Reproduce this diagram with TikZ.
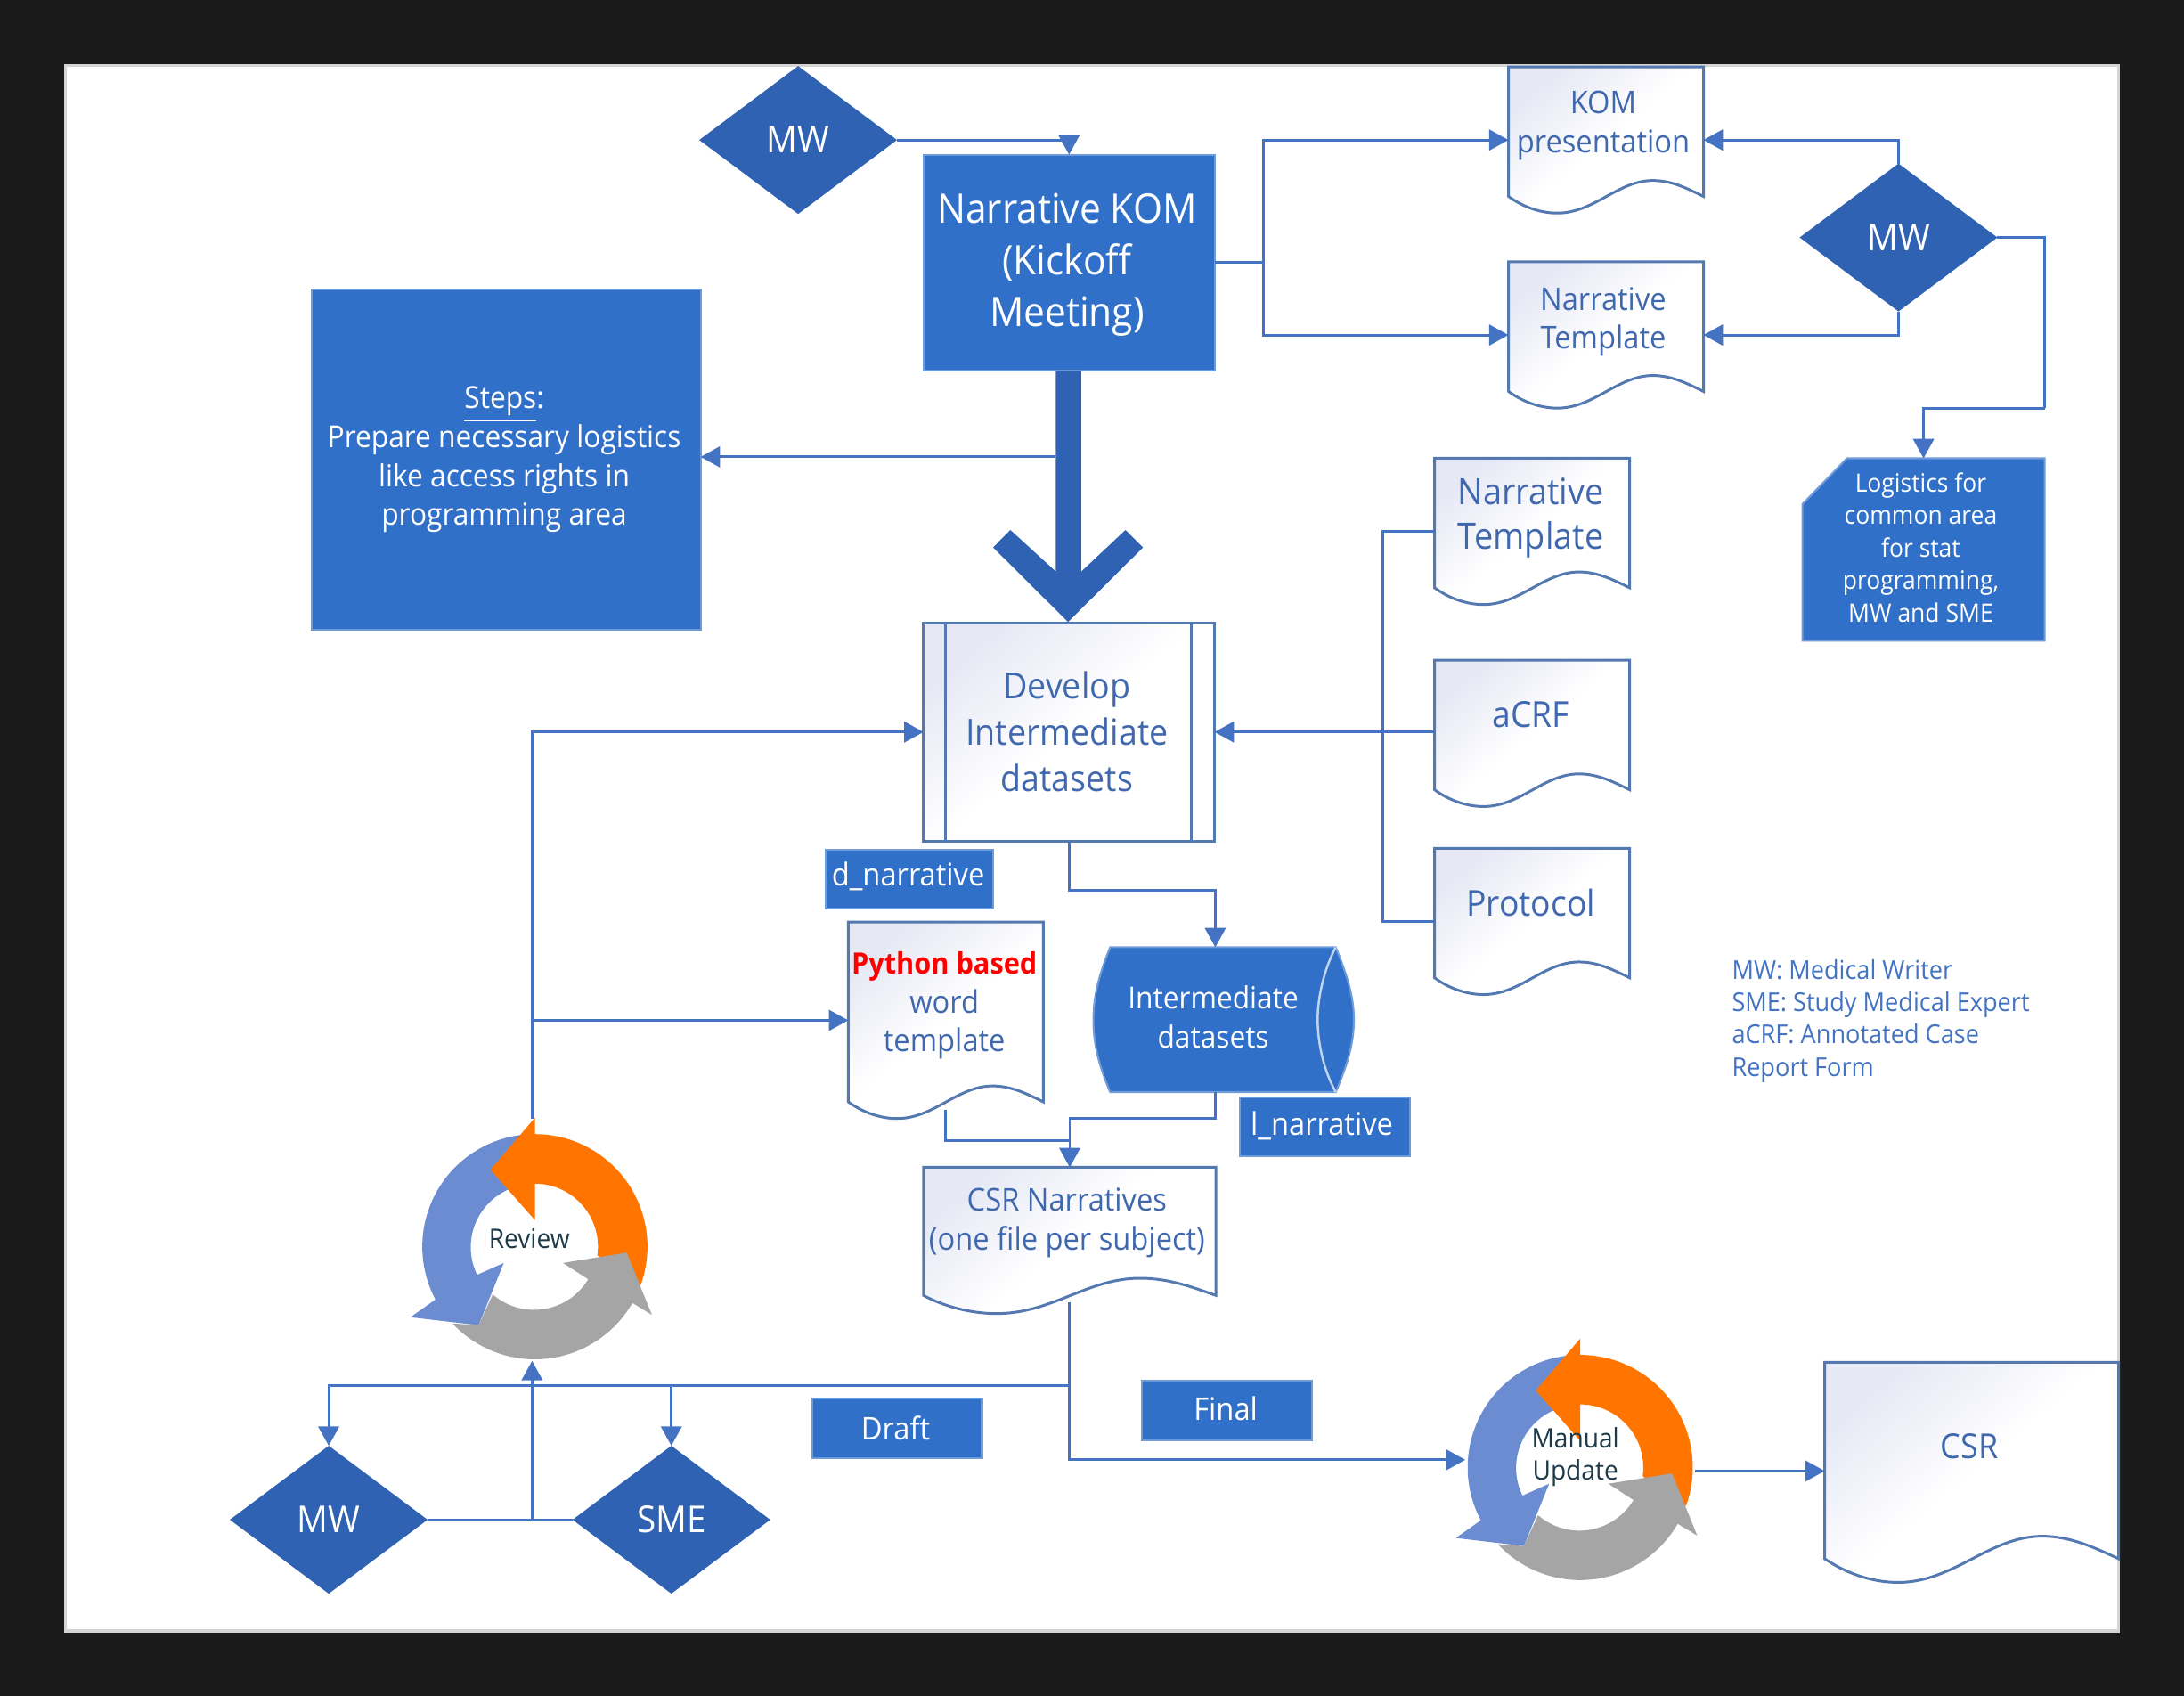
\documentclass[tikz,border=0pt]{standalone}
\usepackage{fontspec}
\setmainfont{Open Sans}[FakeStretch=0.93]
\usetikzlibrary{arrows.meta,shapes.geometric,fit,calc}
\definecolor{pagedark}{HTML}{1A1A1A}
\definecolor{pageedge}{HTML}{D4D4D4}
\definecolor{boxblue}{HTML}{3170C8}
\definecolor{diablue}{HTML}{2F62B2}
\definecolor{linec}{HTML}{4373C2}
\definecolor{edgec}{HTML}{5478B0}
\definecolor{doctext}{HTML}{4068AE}
\definecolor{docshade}{HTML}{E6E8F4}
\definecolor{cycblue}{HTML}{6C8CD2}
\definecolor{cycorange}{HTML}{FF7500}
\definecolor{cycgray}{HTML}{A5A5A5}
\definecolor{cyctext}{HTML}{1C3A48}
\newcommand\fsz[2]{\fontsize{#1}{#2}\selectfont}
\tikzset{
  wire/.style={draw=linec,line width=0.85pt},
  conn/.style={wire,-{Triangle[length=6.2pt,width=6.6pt]}},
  anchorbox/.style={inner sep=0pt,outer sep=0pt},
  bluebox/.style={anchorbox,fill=boxblue,draw=boxblue!70!white,line width=0.6pt,text=white},
  mwdia/.style={diamond,anchorbox,fill=diablue,text=white,minimum width=2.22cm,minimum height=1.66cm,font=\fsz{11.8}{13}},
  doctxt/.style={text=doctext,align=center,inner sep=0pt},
  labtxt/.style={text=white,align=center,inner sep=0pt},
  docpath/.style={draw=edgec,line width=0.85pt,top color=docshade,bottom color=white,middle color=white,shading angle=40},
  cyctxt/.style={text=cyctext,align=center,inner sep=0pt,font=\fsz{8.6}{10.2}}
}
% name, x0, y0, x1, yb, amplitude
\newcommand\docu[6]{%
  \pgfmathsetmacro\dw{#4-#2}%
  \path[docpath] (#2,#3) -- (#4,#3) -- (#4,#5)
    .. controls ({#4-0.08*\dw},{#5-0.45*#6}) and ({#4-0.16*\dw},{#5-0.95*#6}) .. ({#2+0.74*\dw},{#5-0.95*#6})
    .. controls ({#2+0.56*\dw},{#5-0.95*#6}) and ({#2+0.44*\dw},{#5+#6}) .. ({#2+0.25*\dw},{#5+#6})
    .. controls ({#2+0.16*\dw},{#5+#6}) and ({#2+0.07*\dw},{#5+0.6*#6}) .. (#2,#5) -- cycle;
  \node[anchorbox,fit={(#2,#3)(#4,{#5+#6})}] (#1) {};%
}
% centre x, centre y
\newcommand\cyc[2]{%
  \begin{scope}[shift={(#1,#2)},x=0.003334cm,y=0.003334cm]
    \fill[cycblue] (96:380) arc[start angle=96,end angle=208,radius=380]
      -- (-420,-238) -- (-190,-265) -- (-105,-55) -- (-195,-95)
      arc[start angle=206,end angle=108,radius=213] -- cycle;
    \fill[cycorange] (-20:380) arc[start angle=-20,end angle=90,radius=380]
      -- (0,435) -- (-150,260) -- (0,90) -- (0,213)
      arc[start angle=90,end angle=-8,radius=213] -- cycle;
    \fill[cycgray] (223:380) arc[start angle=223,end angle=330,radius=380]
      -- (395,-230) -- (310,-20) -- (95,-55) -- (180,-110)
      arc[start angle=329,end angle=229,radius=213]
      -- (-190,-265) -- cycle;
  \end{scope}
}
\begin{document}
\begin{tikzpicture}[x=0.015638cm,y=-0.015638cm]
\useasboundingbox (0,0) rectangle (1568,1217.55);
\fill[pagedark] (0,0) rectangle (1568,1217.55);
\path[fill=white,draw=pageedge,line width=1pt] (47,47) rectangle (1521,1171);

% boxes
\node[bluebox,fit={(663,111)(872,266)}] (kom) {};
\node[labtxt,font=\fsz{13}{16.6}] (komt) at (766,190) {Narrative KOM\\(Kickoff\\Meeting)};
\node[bluebox,fit={(224,208)(503,452)}] (steps) {};
\node[labtxt,font=\fsz{9.7}{12.4}] (stepst) at (362,330) {\underline{Steps}:\\Prepare necessary logistics\\like access rights in\\programming area};

% thick arrow
\fill[diablue] (758,266) -- (776.3,266) -- (776.3,410.3) -- (808,380.5) -- (820.6,393) -- (766.8,446.5)
  -- (713,393) -- (725.4,380.5) -- (758,410.3) -- cycle;
\coordinate (shaft) at (758,328);

% develop
\path[docpath] (663,447) rectangle (872,604);
\node[anchorbox,fit={(663,447)(872,604)}] (dev) {};
\draw[draw=edgec,line width=0.85pt] (679,447) -- (679,604) (855,447) -- (855,604);
\node[doctxt,font=\fsz{11.5}{14.8}] (devt) at (766,525) {Develop\\Intermediate\\datasets};

% documents
\docu{kompres}{1083}{48}{1223}{141}{12}
\node[doctxt,font=\fsz{10}{12.4}] (kompt) at (1151,90) {KOM\\presentation};
\docu{tmplA}{1083}{188}{1223}{281}{12}
\node[doctxt,font=\fsz{10}{12.4}] (tmplAt) at (1151,231) {Narrative\\Template};
\docu{tmplB}{1030}{329}{1170}{422}{12}
\node[doctxt,font=\fsz{11.6}{14.2}] (tmplBt) at (1099,372) {Narrative\\Template};
\docu{acrf}{1030}{474}{1170}{567}{12}
\node[doctxt,font=\fsz{11.4}{14}] (acrft) at (1099,513) {aCRF};
\docu{prot}{1030}{609}{1170}{702}{12}
\node[doctxt,font=\fsz{11.4}{14}] (prott) at (1099,648) {Protocol};
\docu{py}{609}{662}{749}{791}{12}
\node[doctxt,font=\fsz{10}{12.4}] (pyt) at (678,722) {\textcolor{red}{\textbf{\fsz{9.4}{12.4}Python based}}\\word\\template};
\docu{narr}{663}{838}{873}{930}{13}
\node[doctxt,font=\fsz{10}{12.4}] (narrt) at (766,878) {CSR Narratives\\(one file per subject)};
\docu{csr}{1310}{978}{1521}{1119}{17}
\node[doctxt,font=\fsz{11}{13}] (csrt) at (1414,1038) {CSR};

% logistics
\path[fill=boxblue,draw=boxblue!70!white,line width=0.6pt] (1326,329) -- (1468,329) -- (1468,460) -- (1294,460) -- (1294,362) -- cycle;
\node[anchorbox,fit={(1294,329)(1468,460)}] (logi) {};
\node[labtxt,font=\fsz{8.1}{10.4}] (logit) at (1379,393) {Logistics for\\common area\\for stat\\programming,\\MW and SME};

% cylinder
\path[fill=boxblue,draw=boxblue!70!white,line width=0.6pt] (797,680) -- (959,680)
  .. controls (967,700) and (972,715) .. (972,732) .. controls (972,750) and (967,765) .. (959,784)
  -- (797,784) .. controls (789,765) and (785,750) .. (785,732) .. controls (785,715) and (789,700) .. (797,680) -- cycle;
\draw[draw=white!70!boxblue,line width=0.7pt] (959,680) .. controls (951,695) and (946,715) .. (946,732) .. controls (946,750) and (951,770) .. (959,784);
\node[anchorbox,fit={(785,680)(960,784)}] (cyl) {};
\node[labtxt,font=\fsz{9.7}{12.4}] (cylt) at (871,730) {Intermediate\\datasets};

% labels
\node[bluebox,fit={(593,610)(713,652)}] (dn) {};
\node[labtxt,font=\fsz{10}{12}] (dnt) at (652,629) {d\_narrative};
\node[bluebox,fit={(890,788)(1012,830)}] (ln) {};
\node[labtxt,font=\fsz{10}{12}] (lnt) at (949,808) {l\_narrative};
\node[bluebox,fit={(583,1004)(705,1047)}] (draft) {};
\node[labtxt,font=\fsz{10}{12}] (draftt) at (643,1025) {Draft};
\node[bluebox,fit={(820,991)(942,1034)}] (final) {};
\node[labtxt,font=\fsz{10}{12}] (finalt) at (880,1011) {Final};

% diamonds
\node[mwdia] (mwa) at (573,100.5) {MW};
\node[mwdia] (mwb) at (1363,170.5) {MW};
\node[mwdia] (mwc) at (236,1091) {MW};
\node[mwdia] (sme) at (482,1091) {SME};

% cycles
\cyc{384}{895}
\node[cyctxt] (revt) at (380,889) {Review};
\cyc{1134.5}{1053.5}
\node[cyctxt] (mant) at (1131,1046) {Manual\\Update};

% legend
\node[text=linec,align=left,anchor=west,inner sep=0pt,font=\fsz{8.3}{10.3}] (legend) at (1243,733) {MW: Medical Writer\\SME: Study Medical Expert\\aCRF: Annotated Case\\Report Form};

% connector anchors
\coordinate (revtop) at (382,803);
\coordinate (revbot) at (382,977);
\coordinate (pybot) at (679,797);
\coordinate (narrbot) at (767.5,935);
\coordinate (manin) at (1052,1048);
\coordinate (manout) at (1217,1056);
\coordinate (jright) at (1468,293);
\coordinate (jbranch) at (382,732.5);
\coordinate (jdocs) at (993,525.5);
\coordinate (jpy) at (767.5,819);
\coordinate (jsplit) at (767.5,995);
\coordinate (jkom) at (907,188.5);
\coordinate (jcyc) at (382,1091);

% connectors
\draw[conn] (mwa.east) -| (kom.north);
\draw[wire] (kom.east) -- (jkom);
\draw[conn] (jkom) |- (kompres.west);
\draw[conn] (jkom) |- (tmplA.west);
\draw[conn] (mwb.north) |- (kompres.east);
\draw[conn] (mwb.south) |- (tmplA.east);
\draw[wire] (mwb.east) -| (jright);
\draw[conn] (jright) -| (logi.north);
\draw[conn] (shaft) -- (shaft -| steps.east);
\draw[wire] (tmplB.west) -| (jdocs);
\draw[wire] (prot.west) -| (jdocs);
\draw[wire] (acrf.west |- jdocs) -- (jdocs);
\draw[conn] (jdocs) -- (dev.east);
\draw[conn] (dev.south) -- ++(0,35) -| (cyl.north);
\draw[conn] (revtop) |- (dev.west);
\draw[conn] (jbranch) -- (jbranch -| py.west);
\draw[conn] (cyl.south) -- ++(0,19) -| (narr.north);
\draw[wire] (pybot) |- (jpy);
\draw[wire] (narrbot) -- (jsplit);
\draw[conn] (jsplit) -| (mwc.north);
\draw[conn] (jsplit) -| (sme.north);
\draw[conn] (jsplit) |- (manin);
\draw[wire] (mwc.east) -- (sme.west);
\draw[conn] (jcyc) -- (revbot);
\draw[conn] (manout) -- (manout -| csr.west);
\end{tikzpicture}
\end{document}
